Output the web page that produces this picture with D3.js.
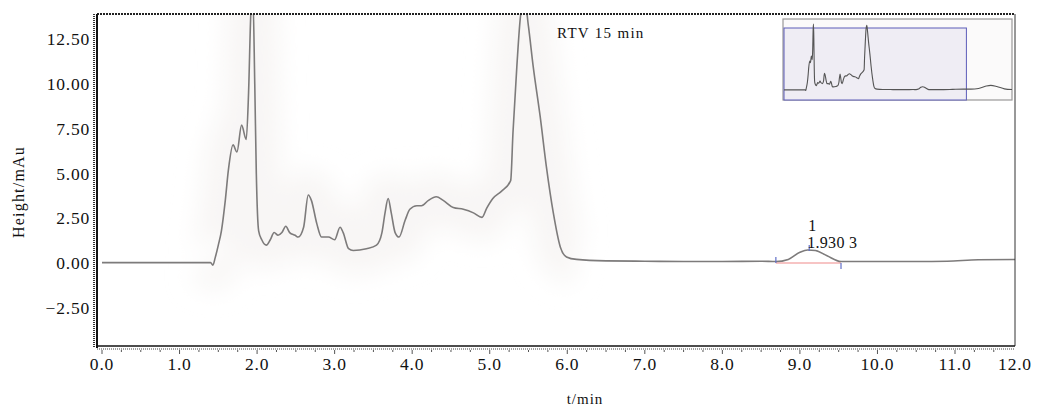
<!DOCTYPE html>
<html lang="en">
<head>
    <meta charset="UTF-8">
    <script src="https://cdnjs.cloudflare.com/ajax/libs/d3/7.8.5/d3.min.js" type="text/JavaScript"></script>
    <style>
        body { margin: 0; background: #fff; }
        text { font-family: "Liberation Serif", "DejaVu Serif", serif; fill: #111; }
    </style>
</head>
<body>
    <div id="viz">
        <svg style="width:1037px;height:407px;"></svg>
    </div>
    <script>
        // retention time (min) and detector height (mAu)
        const times = [0, 0.5, 1.0, 1.4, 1.43, 1.46, 1.50, 1.54, 1.59, 1.63, 1.69, 1.74, 1.80, 1.86, 1.89, 1.92, 1.945,
            1.97, 1.99, 2.02, 2.06, 2.12, 2.17, 2.22, 2.27, 2.32, 2.37, 2.42, 2.49, 2.53, 2.60, 2.66, 2.70, 2.77,
            2.83, 2.92, 3.00, 3.07, 3.11, 3.18, 3.24, 3.41, 3.54, 3.61, 3.65, 3.69, 3.73, 3.78, 3.83, 3.91, 3.97,
            4.06, 4.12, 4.21, 4.31, 4.40, 4.53, 4.66, 4.79, 4.90, 4.96, 5.04, 5.15, 5.27, 5.30, 5.35, 5.40, 5.45,
            5.50, 5.56, 5.65, 5.73, 5.82, 5.91, 5.99, 6.12, 6.5, 7.0, 7.5, 8.0, 8.5, 8.69, 8.85, 9.0, 9.10, 9.2,
            9.35, 9.53, 10.0, 10.5, 10.9, 11.3, 11.8, 12.3, 12.8, 13.3, 13.6, 14.0, 14.5, 15.0];
        const heights = [0.02, 0.02, 0.02, 0.02, -0.12, 0.3, 1.0, 1.8, 3.5, 5.2, 6.6, 6.2, 7.7, 6.9, 9.5, 14.0, 15.0,
            10.0, 5.0, 1.8, 1.3, 1.0, 1.3, 1.7, 1.55, 1.7, 2.05, 1.7, 1.55, 1.45, 2.0, 3.8, 3.5, 2.2,
            1.45, 1.45, 1.3, 2.0, 1.7, 0.8, 0.7, 0.8, 1.0, 1.7, 2.8, 3.6, 2.8, 1.7, 1.45, 2.4, 3.0,
            3.2, 3.2, 3.5, 3.7, 3.5, 3.1, 3.0, 2.8, 2.55, 3.05, 3.6, 4.0, 4.6, 7.3, 11.0, 13.9, 14.7,
            13.2, 11.0, 8.2, 5.4, 2.8, 0.9, 0.34, 0.2, 0.12, 0.1, 0.08, 0.08, 0.1, 0.08, 0.2, 0.6, 0.73, 0.7,
            0.4, 0.08, 0.08, 0.08, 0.1, 0.18, 0.2, 0.2, 0.35, 0.9, 1.05, 0.8, 0.25, 0.1];

        const xTicks = [0, 1, 2, 3, 4, 5, 6, 7, 8, 9, 10, 11, 12];
        const yTicks = [-2.5, 0, 2.5, 5, 7.5, 10, 12.5];

        // integrated peak: start, apex, end (min) and its labels
        const peakMarks = [8.69, 9.12, 9.53];
        const peakName = "1";
        const peakArea = "1.930 3";
        const note = "RTV 15 min";

        const data = times.map((t, i) => ({t: t, v: heights[i]}));
        const svg = d3.select("svg");

        const pLeft = 97, pRight = 1015, pTop = 14, pBottom = 346;
        const xScale = d3.scaleLinear().domain([0, 11]).range([102, 955]);
        const yScale = d3.scaleLinear().domain([0, 12.5]).range([263, 39.25]);

        svg.append("clipPath").attr("id", "plotClip")
            .append("rect")
            .attr("x", pLeft).attr("y", pTop)
            .attr("width", pRight - pLeft).attr("height", pBottom - pTop);

        // faint halo behind the trace
        svg.append("filter").attr("id", "haze")
            .attr("x", "-20%").attr("y", "-20%").attr("width", "140%").attr("height", "140%")
            .append("feGaussianBlur").attr("stdDeviation", 12);

        const line = d3.line()
            .x(d => xScale(d.t))
            .y(d => yScale(d.v))
            .curve(d3.curveMonotoneX);

        const plot = svg.append("g").attr("clip-path", "url(#plotClip)");

        plot.append("path")
            .attr("d", line(data.filter(d => d.t > 1.3 && d.t < 6.3)))
            .attr("fill", "none")
            .attr("stroke", "#f8f6f5")
            .attr("stroke-width", 50)
            .attr("filter", "url(#haze)");

        // integration baseline and markers
        plot.append("line")
            .attr("x1", xScale(peakMarks[0])).attr("x2", xScale(peakMarks[2]))
            .attr("y1", yScale(0)).attr("y2", yScale(0))
            .attr("stroke", "#f08a8a").attr("stroke-width", 1.2);

        plot.append("path")
            .attr("d", line(data))
            .attr("fill", "none")
            .attr("stroke", "#7d7b7b")
            .attr("stroke-width", 1.6);

        plot.selectAll("line.mark")
            .data(peakMarks)
            .enter()
            .append("line")
            .attr("class", "mark")
            .attr("x1", d => xScale(d)).attr("x2", d => xScale(d))
            .attr("y1", (d, i) => i === 0 ? yScale(0) - 6 : i === 1 ? yScale(0.73) - 5 : yScale(0))
            .attr("y2", (d, i) => i === 0 ? yScale(0) : i === 1 ? yScale(0.73) + 1 : yScale(0) + 6)
            .attr("stroke", "#6070c8").attr("stroke-width", 1.2);

        svg.append("text")
            .attr("x", xScale(peakMarks[1]) - 1).attr("y", 231)
            .style("font-size", "16px")
            .text(peakName);
        svg.append("text")
            .attr("x", xScale(peakMarks[1]) - 2).attr("y", 248)
            .style("font-size", "16px")
            .style("letter-spacing", "0.3px")
            .text(peakArea);

        svg.append("text")
            .attr("x", 557).attr("y", 38)
            .style("font-size", "15px")
            .style("letter-spacing", "1.3px")
            .text(note);

        // frame
        svg.append("line").attr("x1", pLeft).attr("x2", pRight).attr("y1", pTop).attr("y2", pTop)
            .attr("stroke", "#222").attr("stroke-width", 2).attr("stroke-dasharray", "2,1");
        svg.append("line").attr("x1", pRight).attr("x2", pRight).attr("y1", pTop).attr("y2", pBottom)
            .attr("stroke", "#333").attr("stroke-width", 1);
        svg.append("line").attr("x1", pLeft).attr("x2", pRight).attr("y1", pBottom).attr("y2", pBottom)
            .attr("stroke", "#111").attr("stroke-width", 1.6);
        svg.append("line").attr("x1", pLeft).attr("x2", pRight).attr("y1", pBottom + 3).attr("y2", pBottom + 3)
            .attr("stroke", "#444").attr("stroke-width", 1.2).attr("stroke-dasharray", "1,1");
        svg.append("line").attr("x1", pLeft).attr("x2", pLeft).attr("y1", pTop).attr("y2", pBottom + 2)
            .attr("stroke", "#111").attr("stroke-width", 2);
        svg.append("line").attr("x1", pLeft - 3).attr("x2", pLeft - 3).attr("y1", pTop).attr("y2", pBottom + 2)
            .attr("stroke", "#333").attr("stroke-width", 2).attr("stroke-dasharray", "1,1");

        // minor ticks on time axis
        svg.selectAll("line.xminor")
            .data(d3.range(0, 47).map(i => i * 0.25))
            .enter()
            .append("line")
            .attr("x1", d => xScale(d)).attr("x2", d => xScale(d))
            .attr("y1", pBottom + 4).attr("y2", d => d % 1 === 0 ? pBottom + 8 : pBottom + 6)
            .attr("stroke", "#555").attr("stroke-width", 1);

        svg.selectAll("text.xtick")
            .data(xTicks)
            .enter()
            .append("text")
            .attr("x", d => Math.min(xScale(d), pRight))
            .attr("y", 370)
            .attr("text-anchor", "middle")
            .style("font-size", "17.5px")
            .style("letter-spacing", "0.8px")
            .text(d => d.toFixed(1));

        svg.selectAll("text.ytick")
            .data(yTicks)
            .enter()
            .append("text")
            .attr("x", 90)
            .attr("y", d => yScale(d) + 6)
            .attr("text-anchor", "end")
            .style("font-size", "17.5px")
            .style("letter-spacing", "0.8px")
            .text(d => (d < 0 ? "\u2212" : "") + Math.abs(d).toFixed(2));

        svg.append("text")
            .attr("transform", "translate(24,192) rotate(-90)")
            .attr("text-anchor", "middle")
            .style("font-size", "16px")
            .style("letter-spacing", "1.2px")
            .text("Height/mAu");

        svg.append("text")
            .attr("x", 585).attr("y", 404)
            .attr("text-anchor", "middle")
            .style("font-size", "15px")
            .style("letter-spacing", "1px")
            .text("t/min");

        // overview inset, whole 15 min run
        const inX = d3.scaleLinear().domain([0, 15]).range([784, 1012]);
        const inY = d3.scaleLinear().domain([0, 15]).range([90, 24]);
        svg.append("rect")
            .attr("x", 783).attr("y", 19).attr("width", 229).attr("height", 81)
            .attr("fill", "#fbfafa").attr("stroke", "#9a9898").attr("stroke-width", 1.2);
        svg.append("rect")
            .attr("x", inX(0)).attr("y", 28).attr("width", inX(12) - inX(0)).attr("height", 72)
            .attr("fill", "#efedf4").attr("stroke", "#5c5cb8").attr("stroke-width", 1);
        const miniLine = d3.line()
            .x(d => inX(d.t))
            .y(d => inY(d.v))
            .curve(d3.curveMonotoneX);
        svg.append("path")
            .attr("d", miniLine(data))
            .attr("fill", "none")
            .attr("stroke", "#555")
            .attr("stroke-width", 1.1);
    </script>
</body>
</html>
